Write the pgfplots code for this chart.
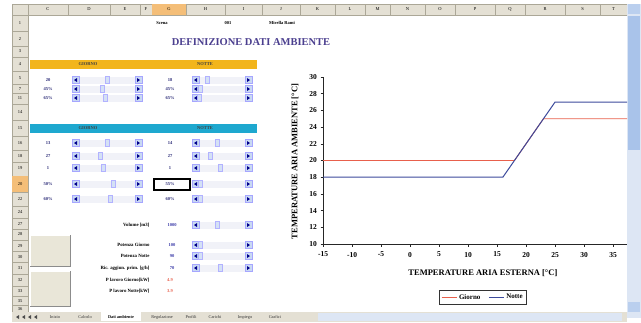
\documentclass[border=0pt]{standalone}
\usepackage{fontspec}
\setmainfont{Liberation Serif}
\usepackage{pgfplots}
\pgfplotsset{compat=1.18}
\definecolor{giorno}{HTML}{E8604C}
\definecolor{notte}{HTML}{3C4A9C}
\definecolor{hdr}{HTML}{E4E0D4}
\definecolor{hdrline}{HTML}{ABA797}
\definecolor{orangeband}{HTML}{F2B51C}
\definecolor{cyanband}{HTML}{1EA8CF}
\definecolor{titleblue}{HTML}{4B3F8F}
\definecolor{spinbtn}{HTML}{C9D9F2}
\definecolor{spintrack}{HTML}{F1F2F8}
\definecolor{valblue}{HTML}{3A3AA8}
\definecolor{hilite}{HTML}{F4BE78}
\definecolor{scrollbg}{HTML}{DDE6F4}
\definecolor{scrollthumb}{HTML}{A9C3EA}
\definecolor{btn}{HTML}{E9E6D8}
\newcommand{\spin}[4]{%
  \fill[spintrack] (#1,#3-3.5) rectangle (#2,#3+3.5);
  \filldraw[fill=spinbtn, draw=blue!35, line width=0.3pt] (#1,#3-3.5) rectangle ++(7,7);
  \filldraw[fill=spinbtn, draw=blue!35, line width=0.3pt] (#2-7,#3-3.5) rectangle (#2,#3+3.5);
  \fill[blue!55!black] (#1+2,#3) -- (#1+5,#3-2) -- (#1+5,#3+2) -- cycle;
  \fill[blue!55!black] (#2-2,#3) -- (#2-5,#3-2) -- (#2-5,#3+2) -- cycle;
  \filldraw[fill=spinbtn!80, draw=blue!30, line width=0.3pt] (#4-2,#3-3.5) rectangle (#4+2,#3+3.5);
}
\begin{document}
\begin{tikzpicture}
\useasboundingbox (0,0) rectangle (641pt,-322pt);
\fill[white] (0,0) rectangle (641pt,-322pt);
\begin{scope}[x=1pt,y=-1pt]
  % column headers
  \fill[hdr] (12,4) rectangle (627,15);
  \foreach \xa/\xb/\l in {28/68/C,68/110/D,110/140/E,140/152/F,152/186/G,186/225/H,225/262/I,262/300/J,300/335/K,335/365/L,365/390/M,390/425/N,425/455/O,455/495/P,495/525/Q,525/565/R,565/600/S,600/627/T}{
    \draw[hdrline, line width=0.3pt] (\xa,4) rectangle (\xb,15);
    \node[font=\fontsize{4.5}{5}\selectfont] at ({(\xa+\xb)/2},9.5) {\l};
  }
  \fill[hilite] (152.3,4.3) rectangle (185.7,14.7);
  \node[font=\fontsize{4.5}{5}\selectfont] at (169,9.5) {G};
  \draw[hdrline, fill=hdr, line width=0.3pt] (12,4) rectangle (28,15);
  % row headers
  \foreach \lab/\yc/\ya/\yb in {1/23/15/31, 2/39/31/46, 3/51/46/57, 4/64/57/71, 5/78/71/84, 7/89/84/93, 11/98/93/104, 14/112/104/120, 15/128/120/136, 16/143/136/150, 18/156/150/162, 19/168/162/176, 20/184/176/192, 22/199/192/206, 24/212/206/218, 27/224/218/229, 28/234/229/240, 29/246/240/251, 30/257/251/262, 31/268/262/274, 32/280/274/286, 33/291/286/296, 35/301/296/305, 36/309/305/312}{
    \draw[hdrline, fill=hdr, line width=0.3pt] (12,\ya) rectangle (28,\yb);
    \node[font=\fontsize{4.5}{5}\selectfont] at (20,\yc) {\lab};
  }
  \fill[hilite] (12.3,176.3) rectangle (27.7,191.7);
  \node[font=\fontsize{4.5}{5}\selectfont] at (20,184) {20};
  % top line and title
  \node[font=\fontsize{4.5}{5}\selectfont\bfseries] at (162,23) {Scena};
  \node[font=\fontsize{4.5}{5}\selectfont\bfseries] at (228,23) {001};
  \node[font=\fontsize{4.5}{5}\selectfont\bfseries] at (282,23) {Mirella Rami};
  \node[font=\fontsize{10.5}{11}\selectfont\bfseries, text=titleblue] at (251,42) {DEFINIZIONE DATI AMBIENTE};
  % bands
  \fill[orangeband] (30,60) rectangle (257,69);
  \fill[cyanband] (30,124) rectangle (257,133);
  \foreach \yy in {64.5,128.5}{
    \node[font=\fontsize{4.5}{5}\selectfont\bfseries, text=black!75] at (88,\yy) {GIORNO};
    \node[font=\fontsize{4.5}{5}\selectfont\bfseries, text=black!75] at (205,\yy) {NOTTE};
  }
  % first block
  \foreach \yy/\va/\vb/\ta/\tb in {80/20/18/107/207, 89/45\%/45\%/102/200, 98/65\%/65\%/105/199}{
    \node[font=\fontsize{4.5}{5}\selectfont\bfseries, text=valblue!70!black] at (48,\yy) {\va};
    \node[font=\fontsize{4.5}{5}\selectfont\bfseries, text=valblue!70!black] at (170,\yy) {\vb};
    \spin{72}{142}{\yy}{\ta}
    \spin{192}{252}{\yy}{\tb}
  }
  % second block
  \foreach \yy/\va/\vb/\ta/\tb in {143/13/14/107/217, 156/27/27/100/210, 168/1/1/103/220, 184/50\%/55\%/113/200, 199/60\%/60\%/110/200}{
    \node[font=\fontsize{4.5}{5}\selectfont\bfseries, text=valblue!70!black] at (48,\yy) {\va};
    \node[font=\fontsize{4.5}{5}\selectfont\bfseries, text=valblue!70!black] at (170,\yy) {\vb};
    \spin{72}{142}{\yy}{\ta}
    \spin{192}{252}{\yy}{\tb}
  }
  \draw[black, line width=1.1pt] (154,179) rectangle (190,190);
  % lower section
  \foreach \yy/\lab/\val/\th in {225/{Volume [m3]}/1000/217, 245/{Potenza Giorno}/100/200, 256/{Potenza Notte}/90/200, 268/{Ric. aggiun. prim. [g/h]}/70/220}{
    \node[anchor=east, font=\fontsize{4.8}{5}\selectfont\bfseries] at (153,\yy) {\lab};
    \node[font=\fontsize{4.5}{5}\selectfont\bfseries, text=valblue] at (172,\yy) {\val};
    \spin{192}{252}{\yy}{\th}
  }
  \node[anchor=east, font=\fontsize{4.8}{5}\selectfont\bfseries] at (153,280) {P lavoro Giorno[kW]};
  \node[font=\fontsize{4.5}{5}\selectfont\bfseries, text=giorno] at (170,280) {4.9};
  \node[anchor=east, font=\fontsize{4.8}{5}\selectfont\bfseries] at (153,291) {P lavoro Notte[kW]};
  \node[font=\fontsize{4.5}{5}\selectfont\bfseries, text=giorno] at (170,291) {3.9};
  % buttons
  \foreach \ya/\yb in {235/266, 271/306}{
    \fill[btn] (30,\ya) rectangle (70,\yb);
    \draw[gray!90, line width=0.8pt] (70,\ya) -- (70,\yb) -- (30,\yb);
    \draw[white, line width=0.5pt] (30,\yb) -- (30,\ya) -- (70,\ya);
  }
  % right scrollbar
  \fill[scrollbg] (627,4) rectangle (641,318);
  \fill[scrollthumb] (628,16) rectangle (640,150);
  \fill[scrollthumb!80] (628,4) rectangle (640,14);
  \fill[scrollthumb!80] (628,302) rectangle (640,312);
  % tab bar
  \fill[hdr] (12,312) rectangle (627,322);
  \fill[scrollbg] (318,313) rectangle (622,321);
  \foreach \xx in {16,22,28,34}{ \fill[black!70] (\xx,317) -- (\xx+3,315) -- (\xx+3,319) -- cycle; }
  \fill[white] (101,312) rectangle (141,321);
  \foreach \xx/\t in {55/Inizio, 85/Calcolo, 162/Regolazione, 191/Profili, 215/Carichi, 245/Impiego, 275/Grafici}{
    \node[font=\fontsize{4.3}{5}\selectfont, text=black!80, text height=3pt, text depth=1pt] at (\xx,317) {\t};
  }
  \node[font=\fontsize{4.3}{5}\selectfont\bfseries, text height=3pt, text depth=1pt] at (121,317) {Dati ambiente};
\end{scope}
\begin{axis}[
  at={(323pt,-244pt)}, anchor=south west,
  scale only axis, width=304pt, height=167pt,
  xmin=-15, xmax=37.4, ymin=10, ymax=30,
  axis x line*=bottom, axis y line*=left,
  axis line style={black!85, line width=0.7pt},
  xtick={-15,-10,...,35}, ytick={10,12,...,30},
  tick align=outside, major tick length=2.5pt,
  tick style={black!85, line width=0.6pt},
  /pgf/number format/assume math mode=true,
  ticklabel style={font=\fontsize{7.5}{8}\selectfont\bfseries},
  xticklabel style={yshift=-2pt},
  xlabel={TEMPERATURE ARIA ESTERNA [°C]},
  ylabel={TEMPERATURE ARIA AMBIENTE [°C]},
  label style={font=\fontsize{8.5}{9}\selectfont\bfseries},
  xlabel style={at={(axis description cs:0.526,-0.174)}, anchor=center},
  ylabel style={at={(axis description cs:-0.092,0.494)}, anchor=center},
  legend style={at={(axis description cs:0.526,-0.32)}, anchor=center,
    legend columns=2, font=\fontsize{7}{8}\selectfont\bfseries,
    draw=black!80, line width=0.6pt, inner sep=2pt,
    /tikz/every even column/.append style={column sep=6pt}},
  legend image code/.code={\draw[#1, line width=0.9pt] (0pt,0pt) -- (15pt,0pt);},
]
\addplot[giorno, line width=0.9pt] coordinates {(-15,20) (18,20) (23,25) (37.4,25)};
\addplot[notte, line width=1pt] coordinates {(-15,18) (16,18) (25,27) (37.4,27)};
\legend{Giorno, Notte}
\end{axis}
\end{tikzpicture}
\end{document}
